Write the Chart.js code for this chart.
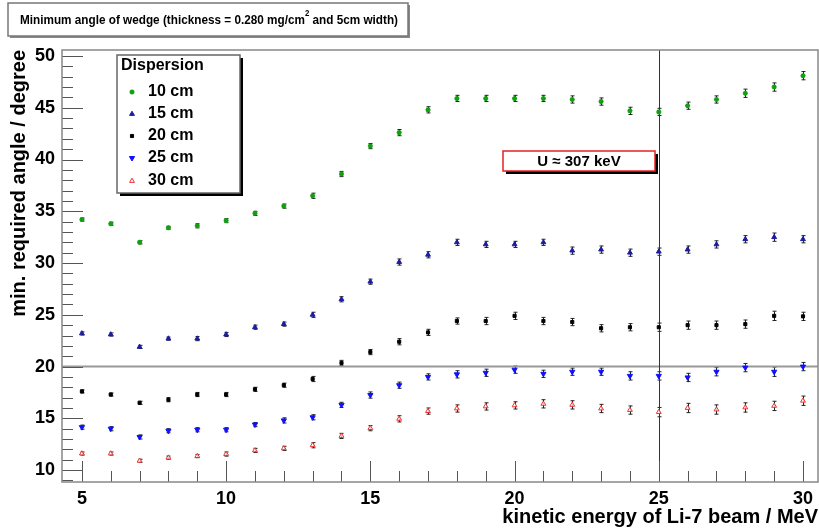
<!DOCTYPE html>
<html>
<head>
<meta charset="utf-8">
<script src="https://cdn.jsdelivr.net/npm/chart.js"></script>
<style>
  body { margin: 0; background: #fff; }
  canvas { display: block; }
</style>
</head>
<body>
<canvas id="chart" width="819" height="532"></canvas>
<script>
// beam energy in MeV
const energy = [5,6,7,8,9,10,11,12,13,14,15,16,17,18,19,20,21,22,23,24,25,26,27,28,29,30];

// minimum wedge angle (degree) per dispersion
const angle10 = [34.2,33.8,32.0,33.4,33.6,34.1,34.8,35.5,36.5,38.6,41.3,42.6,44.8,45.9,45.9,45.9,45.9,45.8,45.6,44.7,44.6,45.2,45.8,46.4,47.0,48.1];
const angle15 = [23.2,23.1,21.9,22.7,22.7,23.1,23.8,24.1,25.0,26.5,28.2,30.1,30.8,32.0,31.8,31.8,32.0,31.2,31.3,31.0,31.1,31.3,31.8,32.3,32.5,32.3];
const angle20 = [17.6,17.3,16.5,16.8,17.3,17.3,17.8,18.2,18.8,20.35,21.4,22.4,23.3,24.4,24.4,24.9,24.4,24.3,23.7,23.8,23.8,24.0,24.0,24.1,24.9,24.85];
const angle25 = [14.15,14.0,13.2,13.8,13.9,13.9,14.4,14.8,15.1,16.3,17.25,18.2,19.0,19.25,19.4,19.7,19.3,19.5,19.5,19.1,19.1,18.95,19.5,19.9,19.5,20.0];
const angle30 = [11.6,11.6,10.9,11.2,11.35,11.55,11.9,12.1,12.4,13.3,14.05,14.95,15.7,15.95,16.15,16.25,16.4,16.3,15.95,15.8,15.6,16.0,15.85,16.05,16.2,16.7];

// error bars (degree)
const err10 = [0.15,0.15,0.15,0.15,0.2,0.2,0.2,0.2,0.25,0.25,0.25,0.3,0.3,0.3,0.3,0.3,0.3,0.35,0.35,0.35,0.35,0.35,0.35,0.4,0.4,0.4];
const err15 = [0.15,0.15,0.15,0.15,0.2,0.2,0.2,0.2,0.25,0.25,0.25,0.3,0.3,0.3,0.3,0.3,0.3,0.35,0.35,0.35,0.35,0.35,0.35,0.35,0.4,0.35];
const err20 = [0.15,0.15,0.15,0.2,0.2,0.2,0.2,0.2,0.25,0.25,0.25,0.3,0.3,0.3,0.35,0.35,0.35,0.35,0.35,0.35,0.4,0.4,0.4,0.4,0.45,0.4];
const err25 = [0.2,0.2,0.2,0.2,0.2,0.2,0.2,0.25,0.25,0.25,0.3,0.3,0.3,0.35,0.35,0.35,0.35,0.35,0.35,0.4,0.4,0.4,0.4,0.4,0.45,0.4];
const err30 = [0.15,0.15,0.15,0.15,0.15,0.2,0.2,0.2,0.25,0.25,0.25,0.3,0.3,0.35,0.35,0.35,0.4,0.4,0.4,0.4,0.45,0.45,0.45,0.45,0.45,0.45];

const seriesLabels = ["10 cm", "15 cm", "20 cm", "25 cm", "30 cm"];
const xTicks = [5, 10, 15, 20, 25, 30];
const yTicks = [10, 15, 20, 25, 30, 35, 40, 45, 50];

const family = '"Liberation Sans", Arial, sans-serif';
function font(s) { return 'bold ' + s + 'px ' + family; }

function pts(ys, es) {
  return energy.map((x, i) => ({ x: x, y: ys[i], e: es[i] }));
}

const datasets = [
  { label: seriesLabels[0], data: pts(angle10, err10), pointStyle: 'star', radius: 2.5, borderWidth: 1.5, borderColor: '#10a010', backgroundColor: '#10a010' },
  { label: seriesLabels[1], data: pts(angle15, err15), pointStyle: 'triangle', radius: 2.8, borderWidth: 1, borderColor: '#1c1ca0', backgroundColor: '#1c1ca0' },
  { label: seriesLabels[2], data: pts(angle20, err20), pointStyle: 'rect', radius: 2.2, borderWidth: 1, borderColor: '#000', backgroundColor: '#000' },
  { label: seriesLabels[3], data: pts(angle25, err25), pointStyle: 'triangle', rotation: 180, radius: 3, borderWidth: 1, borderColor: '#1010ff', backgroundColor: '#1010ff' },
  { label: seriesLabels[4], data: pts(angle30, err30), pointStyle: 'triangle', radius: 2.8, borderWidth: 1, borderColor: '#f03030', backgroundColor: 'rgba(255,255,255,0.8)' }
];
datasets.forEach(d => { d.showLine = false; d.pointRadius = d.radius; d.pointHoverRadius = d.radius; d.pointBorderWidth = d.borderWidth; d.pointRotation = d.rotation || 0; });

const errorBars = {
  id: 'errorBars',
  beforeDatasetsDraw(chart) {
    const ctx = chart.ctx, xs = chart.scales.x, ys = chart.scales.y;
    ctx.save();
    ctx.strokeStyle = '#222';
    ctx.lineWidth = 1;
    chart.data.datasets.forEach(ds => {
      ds.data.forEach(p => {
        const px = Math.round(xs.getPixelForValue(p.x)) + 0.5;
        const y1 = ys.getPixelForValue(p.y - p.e);
        const y2 = ys.getPixelForValue(p.y + p.e);
        ctx.beginPath();
        ctx.moveTo(px, y1); ctx.lineTo(px, y2);
        ctx.moveTo(px - 2, y1); ctx.lineTo(px + 2, y1);
        ctx.moveTo(px - 2, y2); ctx.lineTo(px + 2, y2);
        ctx.stroke();
      });
    });
    ctx.restore();
  }
};

const frame = {
  id: 'frame',
  beforeDatasetsDraw(chart) {
    const ctx = chart.ctx, a = chart.chartArea, xs = chart.scales.x, ys = chart.scales.y;
    ctx.save();
    // reference lines
    ctx.strokeStyle = '#999';
    ctx.lineWidth = 2;
    const hy = ys.getPixelForValue(20);
    ctx.beginPath(); ctx.moveTo(a.left, hy); ctx.lineTo(a.right, hy); ctx.stroke();
    ctx.strokeStyle = '#333';
    ctx.lineWidth = 1;
    const vx = Math.round(xs.getPixelForValue(25)) + 0.5;
    ctx.beginPath(); ctx.moveTo(vx, a.top); ctx.lineTo(vx, a.bottom); ctx.stroke();
    // inner ticks
    ctx.strokeStyle = '#555';
    ctx.beginPath();
    for (let v = 9; v <= 50; v++) {
      const y = Math.round(ys.getPixelForValue(v)) + 0.5;
      ctx.moveTo(a.left, y); ctx.lineTo(a.left + (v % 5 === 0 ? 21 : 11), y);
    }
    for (let v = 5; v <= 30; v++) {
      const x = Math.round(xs.getPixelForValue(v)) + 0.5;
      ctx.moveTo(x, a.bottom); ctx.lineTo(x, a.bottom - (v % 5 === 0 ? 21 : 11));
    }
    ctx.stroke();
    ctx.restore();
  },
  afterDatasetsDraw(chart) {
    const ctx = chart.ctx, a = chart.chartArea;
    ctx.save();
    ctx.strokeStyle = '#888';
    ctx.lineWidth = 1.5;
    ctx.strokeRect(a.left, a.top, a.right - a.left, a.bottom - a.top);
    ctx.restore();
  }
};

function box(ctx, x, y, w, h, border, shadow, sw) {
  ctx.fillStyle = shadow;
  ctx.fillRect(x + sw, y + sw, w, h);
  ctx.fillStyle = '#fff';
  ctx.fillRect(x, y, w, h);
  ctx.strokeStyle = border;
  ctx.lineWidth = 1.5;
  ctx.strokeRect(x, y, w, h);
}

const annotations = {
  id: 'annotations',
  afterDraw(chart) {
    const ctx = chart.ctx;
    ctx.save();
    // title box (text squeezed a little to the narrower face of the original)
    box(ctx, 8, 3, 400, 33, '#777', '#888', 2);
    ctx.fillStyle = '#000';
    ctx.textBaseline = 'middle';
    ctx.textAlign = 'left';
    const t1 = 'Minimum angle of wedge (thickness = 0.280 mg/cm';
    const t2 = ' and 5cm width)';
    ctx.font = font(13.5);
    const w1 = ctx.measureText(t1).width, w2 = ctx.measureText(t2).width;
    ctx.font = font(9);
    const ws = ctx.measureText('2').width;
    const k = 378 / (w1 + ws + w2);
    let tx = 20;
    ctx.font = font(13.5);
    ctx.fillText(t1, tx, 20, w1 * k);
    ctx.font = font(9);
    ctx.fillText('2', tx + w1 * k, 14, ws * k);
    ctx.font = font(13.5);
    ctx.fillText(t2, tx + (w1 + ws) * k, 20, w2 * k);

    // legend box
    box(ctx, 117, 55, 123, 138, '#666', '#000', 3);
    ctx.fillStyle = '#000';
    ctx.font = font(16);
    ctx.fillText('Dispersion', 121, 66);
    const rows = [92, 114, 136, 158, 181];
    chart.data.datasets.forEach((ds, i) => {
      ctx.fillStyle = ds.backgroundColor;
      ctx.strokeStyle = ds.borderColor;
      ctx.lineWidth = ds.borderWidth;
      Chart.helpers.drawPoint(ctx, { pointStyle: ds.pointStyle, radius: ds.radius, rotation: ds.rotation || 0, borderWidth: ds.borderWidth }, 132, rows[i]);
      ctx.fillStyle = '#000';
      ctx.font = font(16);
      ctx.fillText(ds.label, 148, rows[i]);
    });

    // U box
    box(ctx, 503, 151, 152, 20, '#e82020', '#000', 3);
    ctx.fillStyle = '#000';
    ctx.textAlign = 'center';
    ctx.font = font(15);
    ctx.fillText('U \u2248 307 keV', 579, 162);
    ctx.restore();
  }
};

new Chart(document.getElementById('chart'), {
  type: 'scatter',
  data: { datasets: datasets },
  options: {
    responsive: false,
    animation: false,
    layout: { autoPadding: false, padding: { top: 50, right: 1, left: 0, bottom: 0 } },
    plugins: { legend: { display: false }, tooltip: { enabled: false } },
    scales: {
      x: {
        type: 'linear', min: 4.31, max: 30.52,
        afterFit: s => { s.height = 50; s.paddingLeft = 0; s.paddingRight = 0; },
        afterBuildTicks: s => { s.ticks = xTicks.map(v => ({ value: v })); },
        grid: { display: false, drawTicks: false },
        border: { display: false },
        ticks: { color: '#000', font: { family: family, weight: 'bold', size: 18 }, padding: 6, maxRotation: 0 },
        title: { display: true, text: 'kinetic energy of Li-7 beam / MeV', align: 'end', color: '#000',
                 font: { family: family, weight: 'bold', size: 20 }, padding: { top: 0, bottom: 3 } }
      },
      y: {
        type: 'linear', min: 8.85, max: 50.58,
        afterFit: s => { s.width = 62; s.paddingTop = 0; s.paddingBottom = 0; },
        afterBuildTicks: s => { s.ticks = yTicks.map(v => ({ value: v })); },
        grid: { display: false, drawTicks: false },
        border: { display: false },
        ticks: { color: '#000', font: { family: family, weight: 'bold', size: 18 }, padding: 7 },
        title: { display: true, text: 'min. required angle / degree', align: 'end', color: '#000',
                 font: { family: family, weight: 'bold', size: 20 }, padding: { top: 7, bottom: 0 } }
      }
    }
  },
  plugins: [errorBars, frame, annotations]
});
</script>
</body>
</html>
